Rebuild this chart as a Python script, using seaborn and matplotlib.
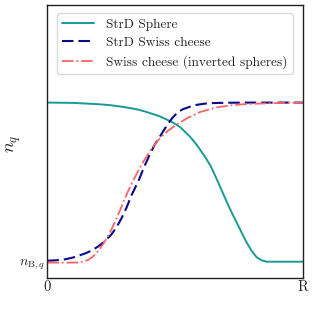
import numpy as np
import pandas as pd
import matplotlib
matplotlib.use("Agg")
import matplotlib.pyplot as plt
import seaborn as sns

# curves (x in units of R, y: 0 = n_B,q, 1 = plateau)
sphere_x = [0.0, 0.1, 0.2, 0.25, 0.3, 0.35, 0.38, 0.44, 0.49, 0.52, 0.56, 0.58, 0.60, 0.62, 0.64,
            0.663, 0.68, 0.70, 0.72, 0.74, 0.76, 0.78, 0.80, 0.82, 0.84, 0.86, 0.90, 1.0]
sphere_y = [1.0, 0.998, 0.99, 0.983, 0.972, 0.958, 0.945, 0.914, 0.876, 0.846, 0.783, 0.745, 0.700, 0.652, 0.600,
            0.520, 0.458, 0.385, 0.315, 0.250, 0.185, 0.122, 0.068, 0.027, 0.008, 0.0, 0.0, 0.0]

swiss_x = [0.0, 0.035, 0.07, 0.10, 0.12, 0.15, 0.175, 0.20, 0.22, 0.25, 0.27, 0.29, 0.31, 0.33,
           0.356, 0.38, 0.40, 0.42, 0.44, 0.467, 0.49, 0.51, 0.53, 0.56, 0.585, 0.62, 0.65, 0.70, 0.80, 1.0]
swiss_y = [0.006, 0.009, 0.015, 0.026, 0.037, 0.053, 0.072, 0.097, 0.122, 0.170, 0.215, 0.272, 0.340, 0.420,
           0.505, 0.600, 0.670, 0.735, 0.785, 0.854, 0.905, 0.938, 0.958, 0.975, 0.986, 0.994, 0.997, 0.999, 1.0, 1.0]

inv_x = [0.0, 0.04, 0.08, 0.12, 0.14, 0.16, 0.175, 0.19, 0.205, 0.22, 0.235, 0.25, 0.27, 0.285,
         0.30, 0.317, 0.336, 0.36, 0.38, 0.41, 0.44, 0.47, 0.50, 0.545, 0.60, 0.663, 0.72, 0.77, 0.87, 1.0]
inv_y = [-0.006, -0.006, -0.006, -0.005, 0.0, 0.012, 0.028, 0.050, 0.080, 0.115, 0.155, 0.200, 0.270, 0.325,
         0.385, 0.447, 0.510, 0.585, 0.640, 0.715, 0.775, 0.820, 0.855, 0.900, 0.942, 0.970, 0.983, 0.990, 0.996, 1.0]

labels = ["StrD Sphere", "StrD Swiss cheese", "Swiss cheese (inverted spheres)"]
colors = ["#1a9a94", "#0a0a8a", "#ff6464"]

sns.set_style("white")
plt.rcParams["font.family"] = "serif"
plt.rcParams["font.serif"] = ["cmr10"]
plt.rcParams["mathtext.fontset"] = "cm"
plt.rcParams["axes.unicode_minus"] = False
plt.rcParams["axes.formatter.use_mathtext"] = True

fig = plt.figure(figsize=(3.16, 3.16), dpi=100)
ax = fig.add_axes([0.150, 0.121, 0.808, 0.863])

sns.lineplot(x=sphere_x, y=sphere_y, ax=ax, color=colors[0], lw=1.4, label=labels[0], sort=False)
sns.lineplot(x=swiss_x, y=swiss_y, ax=ax, color=colors[1], lw=1.5, label=labels[1], sort=False)
sns.lineplot(x=inv_x, y=inv_y, ax=ax, color=colors[2], lw=1.3, label=labels[2], sort=False)
ax.lines[1].set_linestyle((0, (5.5, 2.4)))
ax.lines[2].set_linestyle((0, (6.4, 1.6, 1.0, 1.6)))

ax.set_xlim(0, 1)
ax.set_ylim(-0.101, 1.613)
ax.set_xticks([0, 1])
ax.set_xticklabels(["0", "R"], fontsize=10.5)
ax.set_yticks([0])
ax.set_yticklabels([r"$n_{\mathrm{B},q}$"], fontsize=10)
ax.tick_params(length=0, pad=2)
ax.set_ylabel(r"$n_q$", fontsize=13, ha="center", va="center")
ax.yaxis.set_label_coords(-0.13, 0.49)
for s in ax.spines.values():
    s.set_color("#222222")
    s.set_linewidth(1.0)

leg = ax.legend(loc="upper center", fontsize=9.6, frameon=True, handlelength=2.4,
                borderaxespad=0.6, labelspacing=0.45, handletextpad=0.9)
leg.get_frame().set_edgecolor("#d0d0d0")
handles = leg.legend_handles
handles[1].set_linestyle((0, (5.5, 2.4)))
handles[2].set_linestyle((0, (6.4, 1.6, 1.0, 1.6)))

fig.savefig("out.png", dpi=100)
